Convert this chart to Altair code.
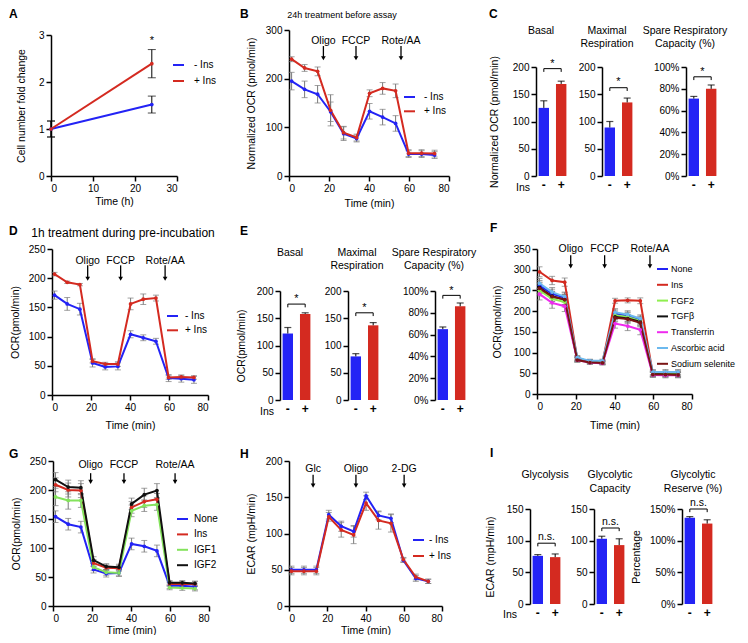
import altair as alt
import pandas as pd

# ---------------- values ----------------
TIME_MIN = [1.3, 7.8, 14.3, 20.8, 27.3, 33.8, 40.3, 46.8, 53.3, 59.8, 66.3, 72.8]
INS = ["-", "+"]
OCR_ARROWS = ["Oligo", "FCCP", "Rote/AA"]
ECAR_ARROWS = ["Glc", "Oligo", "2-DG"]

# A: cell number fold change
A_TIME_H = [0, 24]
A_MINUS = [1.0, 1.52]
A_MINUS_ERR = [0.17, 0.18]
A_PLUS = [1.0, 2.39]
A_PLUS_ERR = [0.17, 0.30]

# B: 24h treatment before assay
B_MINUS = [195, 178, 168, 132, 87, 77, 133, 121, 108, 45, 45, 43]
B_MINUS_ERR = [18, 17, 18, 20, 14, 7, 16, 16, 16, 7, 7, 7]
B_PLUS = [240, 222, 215, 135, 89, 79, 170, 180, 175, 47, 47, 46]
B_PLUS_ERR = [5, 7, 9, 32, 13, 7, 7, 12, 14, 7, 7, 7]
B_ARROW_T = [17.2, 33.5, 56.0]

# C
C_BASAL = [125, 169]
C_BASAL_ERR = [13, 5]
C_MAX = [89, 135]
C_MAX_ERR = [11, 8]
C_SRC = [0.71, 0.80]
C_SRC_ERR = [0.02, 0.035]

# D: 1h treatment during pre-incubation
D_MINUS = [171, 156, 147, 55, 48, 49, 104, 98, 92, 29, 28, 26]
D_MINUS_ERR = [7, 11, 10, 7, 5, 6, 6, 5, 5, 6, 6, 6]
D_PLUS = [207, 193, 189, 58, 53, 53, 156, 164, 166, 30, 31, 30]
D_PLUS_ERR = [3, 2, 2, 3, 3, 4, 10, 9, 5, 3, 3, 3]
D_ARROW_T = [18.3, 35.2, 58.0]

# E
E_BASAL = [122, 158]
E_BASAL_ERR = [11, 2]
E_MAX = [80, 137]
E_MAX_ERR = [5, 5]
E_SRC = [0.65, 0.86]
E_SRC_ERR = [0.02, 0.03]

# F: growth factors
F_GROUPS = ["None", "Ins", "FGF2", "TGFβ", "Transferrin", "Ascorbic acid", "Sodium selenite"]
F_COLORS = ["#2323f5", "#d42a20", "#8fef4f", "#111111", "#ee2bee", "#6cb9ee", "#7a1414"]
F_NONE = [262, 242, 233, 86, 79, 78, 194, 189, 179, 51, 51, 51]
F_INS = [295, 274, 270, 84, 78, 76, 225, 226, 225, 48, 48, 48]
F_FGF2 = [250, 230, 222, 85, 78, 77, 190, 186, 176, 49, 48, 48]
F_TGFB = [257, 236, 228, 83, 77, 75, 186, 182, 174, 48, 47, 47]
F_TRANSFERRIN = [241, 220, 212, 82, 76, 74, 170, 164, 155, 46, 45, 45]
F_ASCORBIC = [267, 246, 235, 88, 80, 80, 197, 192, 182, 53, 53, 53]
F_SELENITE = [255, 235, 228, 82, 76, 75, 184, 181, 172, 47, 47, 46]
F_NONE_ERR = [12, 11, 11, 5, 4, 4, 9, 9, 9, 6, 6, 6]
F_INS_ERR = [12, 10, 10, 5, 4, 4, 6, 6, 7, 5, 5, 5]
F_FGF2_ERR = [13, 12, 12, 5, 4, 4, 10, 10, 10, 6, 6, 6]
F_TGFB_ERR = [13, 12, 12, 5, 4, 4, 10, 10, 10, 6, 6, 6]
F_TRANSFERRIN_ERR = [14, 13, 13, 5, 4, 4, 11, 11, 12, 6, 6, 6]
F_ASCORBIC_ERR = [12, 11, 11, 5, 4, 4, 9, 9, 9, 6, 6, 6]
F_SELENITE_ERR = [13, 12, 12, 5, 4, 4, 10, 10, 10, 6, 6, 6]
F_ARROW_T = [17.4, 34.9, 58.3]

# G: insulin / IGFs
G_GROUPS = ["None", "Ins", "IGF1", "IGF2"]
G_COLORS = ["#2323f5", "#d42a20", "#84e35c", "#111111"]
G_NONE = [154, 141, 136, 63, 56, 57, 107, 103, 95, 35, 35, 33]
G_INS = [209, 200, 199, 74, 66, 65, 170, 180, 184, 38, 38, 38]
G_IGF1 = [188, 182, 182, 67, 58, 57, 164, 173, 175, 32, 31, 30]
G_IGF2 = [218, 205, 204, 79, 68, 67, 176, 192, 199, 40, 40, 39]
G_NONE_ERR = [10, 10, 10, 6, 6, 6, 10, 10, 10, 5, 5, 5]
G_INS_ERR = [12, 12, 12, 6, 5, 5, 10, 10, 10, 4, 4, 4]
G_IGF1_ERR = [15, 15, 12, 6, 5, 5, 10, 10, 10, 4, 4, 4]
G_IGF2_ERR = [12, 12, 12, 6, 5, 5, 10, 11, 12, 4, 4, 4]
G_ARROW_T = [19.3, 36.4, 62.6]

# H: ECAR
H_MINUS = [50, 50, 50, 126, 110, 103, 152, 125, 121, 63, 38, 34]
H_MINUS_ERR = [5, 5, 5, 6, 7, 8, 5, 6, 6, 3, 4, 3]
H_PLUS = [48, 48, 48, 123, 105, 98, 142, 118, 114, 64, 40, 34]
H_PLUS_ERR = [5, 5, 5, 6, 10, 12, 10, 12, 12, 3, 4, 3]
H_ARROW_T = [12.6, 35.0, 60.2]

# I
I_GLY = [76, 74]
I_GLY_ERR = [2, 5]
I_CAP = [103, 93]
I_CAP_ERR = [4, 10]
I_RES = [1.36, 1.27]
I_RES_ERR = [0.02, 0.06]

# ---------------- styling / layout ----------------
FONT = "Liberation Sans"
BLUE = "#2323f5"
RED = "#d42a20"
GRAY = "#7a7a7a"
W, H = 732, 627
M = 8  # page margin


def P(v):
    return v - M


def long_df(time, series):
    rows = []
    for name, vals, errs in series:
        for t, v, e in zip(time, vals, errs):
            rows.append({"t": t, "v": v, "lo": v - e, "hi": v + e, "g": name})
    return pd.DataFrame(rows)


def line_panel(time, series, colors, xdom, xpx, ydom, ypx, xvals, yvals,
               xtitle, ytitle, leg, arrows=None, arrow_t=None, arrow_y=None,
               notes=None, ytitle_pad=11, xtitle_pad=5, err_color=GRAY, cap=6, leg_font=10):
    df = long_df(time, series)
    names = [s[0] for s in series]

    def X():
        return alt.Scale(type="linear", domain=xdom, range=[P(xpx[0]), P(xpx[1])],
                         nice=False, zero=False)

    def Y():
        return alt.Scale(type="linear", domain=ydom, range=[P(ypx[0]), P(ypx[1])],
                         nice=False, zero=False)

    xa = alt.Axis(orient="bottom", offset=P(ypx[0]) - H, values=xvals, title=xtitle,
                  format="d", titlePadding=xtitle_pad)
    ya = alt.Axis(orient="left", offset=-P(xpx[0]), values=yvals, title=ytitle,
                  format="d", titlePadding=ytitle_pad)

    def cs():
        return alt.Scale(domain=names, range=colors)

    base = alt.Chart(df)
    layers = []
    layers.append(base.mark_rule(color=err_color, strokeWidth=1).encode(
        x=alt.X("t:Q", scale=X(), axis=xa), y=alt.Y("lo:Q", scale=Y(), axis=ya), y2="hi:Q",
        detail="g:N"))
    for f in ("lo", "hi"):
        layers.append(base.mark_tick(color=err_color, orient="horizontal", size=cap,
                                     thickness=1).encode(
            x=alt.X("t:Q", scale=X(), axis=None), y=alt.Y(f + ":Q", scale=Y(), axis=None)))
    leg_obj = alt.Legend(orient="none", legendX=P(leg[0]), legendY=P(leg[1]) - 5.5, title=None,
                         symbolType="stroke", symbolSize=121, symbolStrokeWidth=2,
                         labelFontSize=leg_font, labelFont=FONT, labelOffset=leg[3],
                         rowPadding=leg[2], padding=0, labelColor="black", labelLimit=200)
    layers.append(base.mark_line(strokeWidth=2).encode(
        x=alt.X("t:Q", scale=X(), axis=None), y=alt.Y("v:Q", scale=Y(), axis=None),
        color=alt.Color("g:N", scale=cs(), legend=leg_obj, sort=names)))
    layers.append(base.mark_circle(size=14, opacity=1).encode(
        x=alt.X("t:Q", scale=X(), axis=None), y=alt.Y("v:Q", scale=Y(), axis=None),
        color=alt.Color("g:N", scale=cs(), legend=None, sort=names)))
    if arrows:
        adf = pd.DataFrame({"t": arrow_t, "lab": arrows,
                            "yl": [arrow_y[0]] * len(arrows),
                            "yt": [arrow_y[1]] * len(arrows),
                            "yb": [arrow_y[2]] * len(arrows)})
        ab = alt.Chart(adf)
        layers.append(ab.mark_rule(color="black", strokeWidth=1.3).encode(
            x=alt.X("t:Q", scale=X(), axis=None), y=alt.Y("yt:Q", scale=Y(), axis=None), y2="yb:Q"))
        layers.append(ab.mark_point(shape="triangle-down", filled=True, size=22, color="black",
                                    opacity=1).encode(
            x=alt.X("t:Q", scale=X(), axis=None), y=alt.Y("yb:Q", scale=Y(), axis=None)))
        layers.append(ab.mark_text(fontSize=10.5, font=FONT, color="black", baseline="middle").encode(
            x=alt.X("t:Q", scale=X(), axis=None), y=alt.Y("yl:Q", scale=Y(), axis=None), text="lab:N"))
    if notes:
        ndf = pd.DataFrame({"t": [n[0] for n in notes], "v": [n[1] for n in notes],
                            "s": [n[2] for n in notes]})
        layers.append(alt.Chart(ndf).mark_text(fontSize=11, font=FONT, color="black").encode(
            x=alt.X("t:Q", scale=X(), axis=None), y=alt.Y("v:Q", scale=Y(), axis=None), text="s:N"))
    return layers


def bar_panel(vals, errs, ax_px, ypx, ydom, yvals, fmt, ytitle, bracket, sig, sig_v,
              ytitle_pad=11):
    def X():
        return alt.Scale(type="band", domain=INS, range=[P(ax_px), P(ax_px + 33)],
                         paddingInner=0.4, paddingOuter=0.15)

    def Y():
        return alt.Scale(type="linear", domain=ydom, range=[P(ypx[0]), P(ypx[1])],
                         nice=False, zero=False)

    df = pd.DataFrame({"k": INS, "v": vals, "hi": [v + e for v, e in zip(vals, errs)],
                       "z": [0, 0], "c": [BLUE, RED]})
    xa = alt.Axis(orient="bottom", offset=P(ypx[0]) - H, domain=False, ticks=False,
                  labelFontSize=12, labelFontWeight="bold", labelPadding=3, title=None,
                  labelAngle=0)
    ya = alt.Axis(orient="left", offset=-P(ax_px), values=yvals, format=fmt, title=ytitle,
                  titlePadding=ytitle_pad)
    base = alt.Chart(df)
    layers = [
        base.mark_bar().encode(
            x=alt.X("k:N", scale=X(), axis=xa, sort=INS), y=alt.Y("v:Q", scale=Y(), axis=ya),
            y2="z:Q", color=alt.Color("c:N", scale=None)),
        base.mark_rule(color="black", strokeWidth=1).encode(
            x=alt.X("k:N", scale=X(), axis=None, sort=INS), y=alt.Y("v:Q", scale=Y(), axis=None),
            y2="hi:Q"),
        base.mark_tick(color="black", orient="horizontal", size=7, thickness=1.2).encode(
            x=alt.X("k:N", scale=X(), axis=None, sort=INS), y=alt.Y("hi:Q", scale=Y(), axis=None)),
    ]
    bdf = pd.DataFrame({"k": ["-", "-", "+", "+"],
                        "y": [bracket[1], bracket[0], bracket[0], bracket[1]],
                        "o": [0, 1, 2, 3]})
    layers.append(alt.Chart(bdf).mark_line(color="black", strokeWidth=1).encode(
        x=alt.X("k:N", scale=X(), axis=None, sort=INS), y=alt.Y("y:Q", scale=Y(), axis=None),
        order="o:Q"))
    sdf = pd.DataFrame({"s": [sig], "y": [sig_v]})
    layers.append(alt.Chart(sdf).mark_text(fontSize=10.5 if sig != "*" else 11, font=FONT,
                                           color="black", baseline="middle").encode(
        x=alt.value(P(ax_px + 16.5)), y=alt.Y("y:Q", scale=Y(), axis=None), text="s:N"))
    return layers


def txt(s, x, y, size=10.5, weight="normal", align="center", baseline="middle"):
    return alt.Chart(pd.DataFrame({"s": [s]})).mark_text(
        fontSize=size, fontWeight=weight, align=align, baseline=baseline, font=FONT,
        color="black").encode(x=alt.value(P(x)), y=alt.value(P(y)), text="s:N")


layers = []

# ---- A ----
layers += line_panel(
    A_TIME_H, [("- Ins", A_MINUS, A_MINUS_ERR), ("+ Ins", A_PLUS, A_PLUS_ERR)], [BLUE, RED],
    [0, 30], (51, 177), [0, 3], (176, 35), [0, 10, 20, 30], [0, 1, 2, 3],
    "Time (h)", "Cell number fold change", (172, 64, 4, 9), notes=[(24, 2.87, "*")],
    ytitle_pad=12, xtitle_pad=3, err_color="black", cap=8)

# ---- B ----
layers += line_panel(
    TIME_MIN, [("- Ins", B_MINUS, B_MINUS_ERR), ("+ Ins", B_PLUS, B_PLUS_ERR)], [BLUE, RED],
    [0, 80], (289, 449), [0, 300], (176, 30), [0, 20, 40, 60, 80], [0, 100, 200, 300],
    "Time (min)", "Normalized OCR (pmol/min)", (403, 96, 2.3, 8),
    arrows=OCR_ARROWS, arrow_t=B_ARROW_T, arrow_y=(278, 267, 242), ytitle_pad=9, xtitle_pad=5)

# ---- C ----
layers += bar_panel(C_BASAL, C_BASAL_ERR, 536, (176, 67), [0, 200], [0, 50, 100, 150, 200],
                    "d", "Normalized OCR (pmol/min)", (197, 191), "*", 206, ytitle_pad=13)
layers += bar_panel(C_MAX, C_MAX_ERR, 602, (176, 67), [0, 200], [0, 50, 100, 150, 200],
                    "d", None, (162, 156), "*", 172)
layers += bar_panel(C_SRC, C_SRC_ERR, 686, (176, 67), [0, 1], [0, 0.2, 0.4, 0.6, 0.8, 1.0],
                    ".0%", None, (0.91, 0.88), "*", 0.955)

# ---- D ----
layers += line_panel(
    TIME_MIN, [("- Ins", D_MINUS, D_MINUS_ERR), ("+ Ins", D_PLUS, D_PLUS_ERR)], [BLUE, RED],
    [0, 80], (52, 208), [0, 250], (395, 249), [0, 20, 40, 60, 80], [0, 50, 100, 150, 200, 250],
    "Time (min)", "OCR(pmol/min)", (166, 315, 2.3, 6),
    arrows=OCR_ARROWS, arrow_t=D_ARROW_T, arrow_y=(230, 222, 199), ytitle_pad=8, xtitle_pad=8)

# ---- E ----
layers += bar_panel(E_BASAL, E_BASAL_ERR, 280, (400, 291), [0, 200], [0, 50, 100, 150, 200],
                    "d", "OCR(pmol/min)", (176, 170), "*", 185, ytitle_pad=10)
layers += bar_panel(E_MAX, E_MAX_ERR, 348, (400, 291), [0, 200], [0, 50, 100, 150, 200],
                    "d", None, (160, 154), "*", 169)
layers += bar_panel(E_SRC, E_SRC_ERR, 435, (400, 291), [0, 1], [0, 0.2, 0.4, 0.6, 0.8, 1.0],
                    ".0%", None, (0.96, 0.93), "*", 1.0)

# ---- F ----
layers += line_panel(
    TIME_MIN,
    [("None", F_NONE, F_NONE_ERR), ("Ins", F_INS, F_INS_ERR), ("FGF2", F_FGF2, F_FGF2_ERR),
     ("TGFβ", F_TGFB, F_TGFB_ERR), ("Transferrin", F_TRANSFERRIN, F_TRANSFERRIN_ERR),
     ("Ascorbic acid", F_ASCORBIC, F_ASCORBIC_ERR),
     ("Sodium selenite", F_SELENITE, F_SELENITE_ERR)],
    F_COLORS, [0, 80], (537, 692), [0, 350], (394, 249), [0, 20, 40, 60, 80],
    [0, 50, 100, 150, 200, 250, 300, 350], "Time (min)", "OCR(pmol/min)", (656, 268, 3.8, 2),
    arrows=OCR_ARROWS, arrow_t=F_ARROW_T, arrow_y=(350, 335, 308), xtitle_pad=9, leg_font=9)

# ---- G ----
layers += line_panel(
    TIME_MIN,
    [("None", G_NONE, G_NONE_ERR), ("Ins", G_INS, G_INS_ERR), ("IGF1", G_IGF1, G_IGF1_ERR),
     ("IGF2", G_IGF2, G_IGF2_ERR)],
    G_COLORS, [0, 80], (53, 209), [0, 250], (606, 461), [0, 20, 40, 60, 80],
    [0, 50, 100, 150, 200, 250], "Time (min)", "OCR(pmol/min)", (176, 518, 3.4, 5),
    arrows=OCR_ARROWS, arrow_t=G_ARROW_T, arrow_y=(243, 229, 214), ytitle_pad=8, xtitle_pad=2)

# ---- H ----
layers += line_panel(
    TIME_MIN, [("- Ins", H_MINUS, H_MINUS_ERR), ("+ Ins", H_PLUS, H_PLUS_ERR)], [BLUE, RED],
    [0, 80], (289, 442), [0, 200], (606, 461), [0, 20, 40, 60, 80], [0, 50, 100, 150, 200],
    "Time (min)", "ECAR (mpH/min)", (412, 539, 4, 4),
    arrows=ECAR_ARROWS, arrow_t=H_ARROW_T, arrow_y=(189, 181, 166), ytitle_pad=9, xtitle_pad=2)

# ---- I ----
layers += bar_panel(I_GLY, I_GLY_ERR, 530, (604, 509), [0, 150], [0, 50, 100, 150],
                    "d", "ECAR (mpH/min)", (96, 91), "n.s.", 106)
layers += bar_panel(I_CAP, I_CAP_ERR, 594, (604, 509), [0, 150], [0, 50, 100, 150],
                    "d", None, (120, 115), "n.s.", 130)
layers += bar_panel(I_RES, I_RES_ERR, 682, (604, 509), [0, 1.5], [0, 0.5, 1.0, 1.5],
                    ".0%", "Percentage", (1.50, 1.45), "n.s.", 1.59, ytitle_pad=8)

# ---------------- text annotations ----------------
layers += [
    txt("A", 9, 9, 12, "bold", "left", "top"), txt("B", 240, 9, 12, "bold", "left", "top"),
    txt("C", 489, 9, 12, "bold", "left", "top"), txt("D", 9, 231, 12, "bold", "left"),
    txt("E", 240, 231, 12, "bold", "left"), txt("F", 490, 228, 12, "bold", "left"),
    txt("G", 9, 454, 12, "bold", "left"), txt("H", 240, 454, 12, "bold", "left"),
    txt("I", 490, 453, 12, "bold", "left"),
    txt("24h treatment before assay", 342, 15, 9),
    txt("1h treatment during pre-incubation", 123, 233, 12),
    txt("Basal", 541, 31), txt("Maximal", 607, 31), txt("Respiration", 607, 44),
    txt("Spare Respiratory", 685, 31), txt("Capacity (%)", 685, 44),
    txt("Basal", 290, 253), txt("Maximal", 357, 253), txt("Respiration", 357, 266),
    txt("Spare Respiratory", 434, 253), txt("Capacity (%)", 434, 266),
    txt("Glycolysis", 545, 475), txt("Glycolytic", 610, 475), txt("Capacity", 610, 489),
    txt("Glycolytic", 693, 475), txt("Reserve (%)", 693, 489),
    txt("Ins", 523, 188), txt("Ins", 267, 412), txt("Ins", 510, 615),
]

chart = alt.layer(*layers).resolve_scale(
    x="independent", y="independent", color="independent"
).resolve_axis(x="independent", y="independent").resolve_legend(color="independent").properties(
    width=W, height=H, autosize=alt.AutoSizeParams(type="none"), padding=0
).configure_view(stroke=None).configure_axis(
    labelFont=FONT, titleFont=FONT, labelFontSize=10, titleFontSize=10.5,
    titleFontWeight="normal", labelColor="black", titleColor="black", domainColor="black",
    tickColor="black", domainWidth=1.5, tickWidth=1.5, tickSize=5, labelPadding=2, grid=False
).configure_legend(labelFont=FONT)

chart.save("out.html", embed_options={"renderer": "svg", "actions": False})
